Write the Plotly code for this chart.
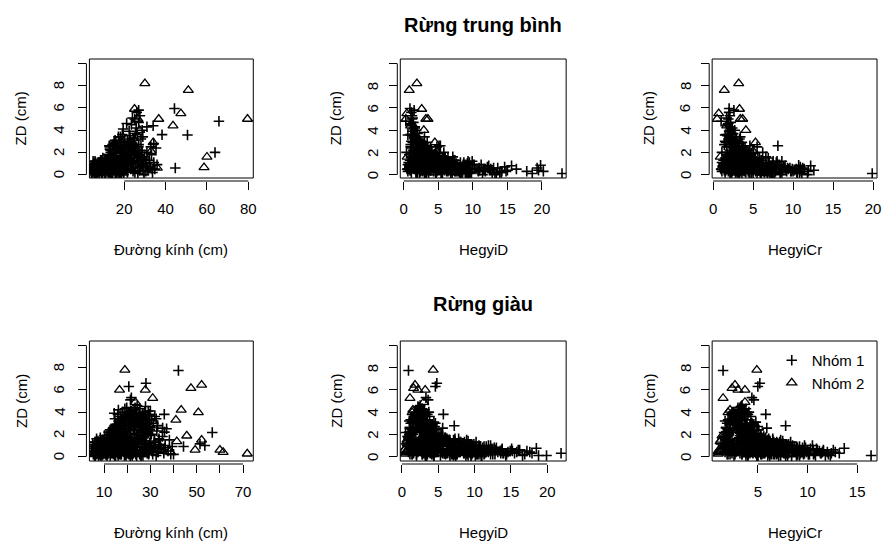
import plotly.graph_objects as go

# ---------------- Rừng trung bình : Nhóm 1 ----------------
d_tb_n1 = [4.2,4.6,5.1,5.8,6.3,4.8,5.5,6.9,7.4,4.4, 5.2,6.1,7.8,8.5,4.9,5.7,6.6,7.2,8.1,9.0,
           4.3,5.3,6.0,6.8,7.6,8.8,9.5,4.7,5.9,6.4, 7.0,8.3,9.2,9.8,5.0,6.2,7.3,8.0,8.7,9.4,
           4.5,5.4,6.7,7.9,9.7,5.6,6.5,4.1,7.1,8.4,
           10.2,10.8,11.3,11.9,12.4,12.9,13.5,14.0,14.6,15.1, 15.7,16.2,16.8,17.3,17.9,18.4,19.0,19.6,10.5,11.1,
           11.6,12.2,12.7,13.2,13.8,14.3,14.9,15.4,16.0,16.5, 17.1,17.6,18.2,18.7,19.3,19.8,10.7,11.4,12.0,12.6,
           13.3,13.9,14.5,15.2,15.8,16.4,17.0,17.7,18.3,18.9, 19.5,10.0,10.9,11.7,12.8,13.6,14.7,15.9,16.9,18.0,
           12.3,13.1,13.8,14.4,15.0,15.6,16.1,16.7,17.2,17.8, 18.3,18.9,19.4,20.0,20.6,21.1,21.7,22.2,22.8,23.3,
           23.9,24.5,25.0,25.6,14.8,16.4,18.6,19.9,21.4,23.6, 13.5,15.3,17.5,19.1,20.3,22.5,24.2,12.8,18.0,21.9,
           20.4,21.0,21.6,22.1,22.7,23.2,23.8,24.3,24.9,25.4, 26.0,26.6,27.1,27.7,28.2,28.8,29.3,29.9,30.4,31.0,
           31.5,32.1,32.6,33.2,33.7,34.3,34.8,35.4,35.9,24.6, 26.9,28.5,30.8,32.9,29.6,
           22.4,23.5,24.4,25.1,25.8,26.3,27.0,27.6,28.1,28.7, 26.1,23.0,21.2,24.0,29.0,19.5,
           44.3,65.8,50.6,38.3,63.9,44.7,27.0,31.0,34.0,25.4, 34.3,18.2,15.5,16.0,
           5.3,6.4,7.1,8.0,8.9,9.4,10.6,11.1,12.2,12.7, 13.8,14.2,15.5,15.9,17.0,17.4,18.6,19.1,20.2,20.9,
           21.5,4.9,5.8,6.6,7.5,8.3,9.2,10.1,10.9,11.8, 12.5,13.4,14.1,15.0,15.7,16.6,17.3,18.2,18.9,19.8,
           20.6,21.3,22.1,23.3,24.1,25.2,26.3,27.4,28.3,29.2, 30.5,31.2,32.3,33.5,9.7,13.0,16.3,19.4,22.8,26.7,
           5.4,6.2,7.3,8.1,9.0,9.9,10.7,11.5,12.4,13.1, 13.9,14.8,15.6,16.3,17.2,18.1,18.8,19.7,20.5,21.4,
           5.9,6.8,7.7,8.6,9.5,10.4,11.3,12.1,13.0,13.8, 14.6,15.4,16.2,17.1,17.9,18.7,19.5,20.3,21.2,22.0,
           12.6,13.4,14.2,15.1,15.9,16.8,17.6,18.5,19.3,20.2, 21.0,21.9,22.7,23.6,24.4,25.3,26.1,27.0,27.8,28.7,
           13.0,14.6,16.0,17.4,18.9,20.6,22.3,23.9,25.6,27.3, 14.0,15.5,17.0,18.3,19.9,21.6,23.1,24.8,26.5,29.5]
zd_tb_n1 = [0.1,0.85,0.4,0.5,0.4,0.3,0.6,0.2,0.7,0.5, 0.9,0.3,0.5,0.8,0.2,1.0,0.6,0.3,1.1,0.4,
            0.7,0.4,0.9,0.1,0.6,0.3,1.0,0.5,0.2,0.8, 0.5,0.7,0.2,0.6,1.2,0.0,0.9,0.1,0.5,0.8,
            0.3,0.7,0.4,0.2,0.5,0.1,0.6,0.3,0.8,0.3,
            0.3,0.9,0.5,1.3,0.2,0.7,1.1,0.4,1.5,0.8, 0.1,1.2,0.6,0.3,1.4,0.9,0.5,1.1,1.4,0.1,
            0.8,1.0,0.4,1.6,0.2,0.9,0.5,1.3,0.3,1.0, 0.7,0.0,1.2,0.4,0.8,0.2,0.6,1.1,0.3,0.9,
            0.5,1.2,0.1,0.7,0.4,0.9,0.2,1.0,0.6,0.3, 1.3,0.8,0.2,0.6,0.0,0.8,1.4,0.5,1.1,0.7,
            1.8,2.3,1.6,2.7,2.0,3.1,1.7,2.5,3.4,2.1, 2.9,1.9,2.6,3.2,1.6,2.4,2.9,1.8,3.5,2.2,
            2.8,1.7,3.1,2.0,1.5,2.2,1.5,2.0,1.6,1.5, 2.0,2.9,3.0,3.6,2.7,2.5,2.6,2.6,2.4,2.1,
            0.4,1.1,0.2,0.8,1.4,0.5,1.0,0.3,1.3,0.7, 1.9,0.1,1.2,0.6,2.2,0.9,0.3,1.6,0.8,2.0,
            0.4,1.3,0.6,1.8,0.2,1.1,0.5,2.4,0.9,2.3, 2.5,1.5,1.0,2.5,0.0,
            3.9,4.5,3.3,5.0,4.2,3.6,4.7,5.3,3.2,4.0, 5.6,3.0,4.6,5.1,3.4,4.1,
            5.95,4.8,3.57,3.6,2.0,0.6,5.8,4.3,4.4,3.7, 2.8,3.4,2.6,1.2,
            0.6,0.2,1.0,0.4,0.8,0.1,0.5,1.2,0.3,0.7, 1.0,0.2,0.6,1.3,0.4,0.8,0.1,1.1,0.5,0.9,
            0.3,0.9,0.3,0.7,1.1,0.5,0.2,0.8,0.4,1.0, 0.6,0.2,1.3,0.8,0.3,0.6,1.0,0.2,1.2,0.7,
            1.4,0.5,0.9,1.2,0.6,0.2,1.0,0.4,0.8,1.3, 0.3,0.7,1.1,0.5,1.5,1.7,1.9,1.6,1.8,1.5,
            0.7,1.1,0.3,0.9,1.3,0.5,0.1,1.0,0.6,1.2, 0.2,0.8,1.3,0.4,1.0,0.6,1.2,0.0,0.8,0.4,
            1.2,0.5,0.9,1.3,0.2,1.1,0.7,0.3,1.3,0.9, 0.5,1.1,0.1,0.7,1.3,0.3,0.9,1.2,0.5,1.0,
            1.4,2.2,1.0,2.8,1.7,2.4,1.2,3.0,1.9,2.6, 0.9,2.1,1.5,2.9,1.1,2.3,1.8,2.7,1.3,2.0,
            2.5,1.6,2.9,1.1,2.3,1.4,2.8,1.0,2.2,1.7, 1.8,1.2,2.6,2.0,1.5,3.0,1.2,2.4,1.9,1.4]
hd_tb_n1 = [22.9,19.8,19.5,16.3,15.0,14.2,13.6,12.8,12.1,11.7, 11.2,10.8,10.3,9.9,9.6,9.2,8.9,8.5,8.2,7.9,
            7.6,7.3,7.0,6.8,6.5,6.2,6.0,5.8,5.5,5.3, 5.1,4.9,4.7,4.5,4.4,13.2,10.0,9.4,11.5,8.7,
            17.8,14.6,12.4,13.9,10.6,18.6,19.3,20.2,15.6,14.8,
            7.4,6.6,5.9,5.2,8.1,4.6,4.1,6.9,3.7,4.3, 5.6,3.4,3.9,4.8,3.1,3.5,2.9,2.6,5.0,9.1,
            6.3,7.6,3.8,4.9,9.8,5.4,2.8,6.1,8.4,2.5, 7.1,3.3,4.0,2.3,5.7,3.6,10.9,8.7,11.8,10.2,
            12.6,9.3,13.4,8.9,11.0,7.8,9.6,6.7,8.0,6.4, 4.5,12.3,14.1,13.0,11.4,7.3,6.0,5.3,4.7,2.7,
            3.6,2.9,4.4,2.4,3.3,2.0,4.9,2.7,1.8,3.8, 2.2,5.2,3.0,1.6,4.1,2.5,3.4,2.1,1.4,3.7,
            2.6,1.9,2.3,4.6,5.6,4.0,6.4,5.8,7.1,6.0, 1.5,1.3,1.1,1.2,1.0,4.8,5.3,3.2,3.5,2.8,
            2.4,3.1,1.8,4.2,2.0,3.5,1.5,2.7,3.9,1.2, 2.2,3.0,1.7,2.5,1.4,3.3,1.9,1.1,2.6,1.6,
            0.9,2.1,1.3,0.8,1.8,1.0,0.7,1.2,0.6,2.9, 1.0,4.3,3.6,2.4,4.6,
            1.3,1.1,1.5,1.2,1.6,1.0,1.4,1.2,2.2,1.8, 1.1,2.4,1.0,1.3,1.5,1.2,
            0.9,0.3,0.6,1.2,0.4,0.8,1.5,1.6,1.2,2.0, 2.3,3.0,5.1,6.8,
            9.2,8.3,7.1,6.8,6.1,5.4,5.2,4.5,4.3,3.8, 3.7,3.2,3.1,2.7,2.7,2.3,2.3,1.9,2.0,1.7,
            1.8,8.7,7.5,6.6,5.7,5.3,4.7,4.5,3.9,3.8, 3.3,3.2,2.8,2.8,2.4,2.4,2.0,2.0,1.7,1.7,
            1.4,1.5,1.2,1.3,1.0,1.1,0.9,1.0,0.8,0.9, 0.6,0.8,0.7,0.5,3.9,3.4,2.6,2.1,1.5,1.1,
            8.8,9.5,7.9,8.6,7.2,9.3,8.2,6.9,7.8,6.4, 8.5,6.1,5.8,7.5,5.5,6.6,5.1,7.0,4.8,5.9,
            9.9,8.4,9.0,7.4,8.9,6.8,7.6,9.6,6.2,7.3, 8.0,5.6,9.2,6.5,4.9,7.7,5.3,4.6,6.3,5.0,
            3.9,3.0,4.4,2.5,3.6,2.8,4.1,2.1,3.3,2.6, 3.8,2.4,3.1,1.9,3.5,2.2,2.9,1.7,2.7,2.0,
            3.4,4.2,2.3,4.0,2.9,3.7,2.0,3.2,2.5,2.3, 4.5,3.9,2.7,3.1,3.6,1.8,3.4,2.6,2.1,1.5]
hc_tb_n1 = [19.9,10.7,12.6,11.4,10.2,11.0,9.6,10.5,8.8,9.9, 8.1,9.2,7.6,7.1,8.4,6.9,7.8,6.4,6.0,6.7,
            7.3,5.8,6.2,5.5,5.1,5.9,4.8,6.5,4.6,5.3, 4.4,4.9,4.1,3.8,5.2,11.8,8.3,7.4,9.4,6.6,
            11.9,10.9,9.1,8.6,7.9,10.5,11.2,9.8,12.2,10.0,
            6.1,5.4,4.9,4.5,6.8,4.2,3.9,5.6,3.6,4.0, 5.0,3.3,3.8,4.4,3.1,3.5,3.0,2.8,4.7,7.7,
            5.8,6.3,3.4,4.6,7.2,4.8,2.9,5.2,6.9,2.6, 5.7,3.2,3.7,2.4,4.9,3.3,8.9,7.0,9.7,8.0,
            10.4,7.5,11.1,6.5,8.7,6.2,7.3,5.5,6.0,5.3, 4.1,9.0,10.8,9.3,8.4,5.9,5.1,4.3,4.0,2.5,
            3.1,2.7,3.9,2.3,3.2,2.1,4.4,2.6,2.0,3.5, 2.4,4.8,3.0,1.9,4.2,2.8,3.6,2.5,1.8,4.1,
            3.3,2.2,2.9,5.0,5.3,4.5,5.8,6.2,6.6,6.9, 1.7,1.6,1.5,1.9,1.4,5.5,4.6,3.7,4.0,3.8,
            2.7,3.2,2.2,4.3,2.6,3.9,2.0,3.4,4.7,1.8, 3.0,3.6,2.4,3.5,2.1,4.4,2.9,1.9,4.0,2.6,
            1.6,3.1,2.3,1.7,2.8,2.0,1.5,2.5,1.3,3.8, 1.7,5.6,4.9,3.7,6.0,
            2.0,1.8,2.3,1.9,2.4,1.6,2.2,2.1,3.3,2.7, 2.0,2.6,1.9,1.7,2.8,2.2,
            2.0,1.0,1.5,2.4,1.1,1.8,2.6,2.1,1.8,2.5, 3.0,3.4,8.1,8.6,
            7.1,6.4,6.2,5.6,5.3,4.8,4.6,4.0,3.9,3.5, 3.5,3.0,3.0,2.6,2.6,2.2,2.3,2.0,2.1,1.8,
            1.9,7.5,6.7,6.0,5.3,5.1,4.5,4.4,3.8,3.8, 3.2,3.2,2.7,2.7,2.4,2.4,2.0,2.1,1.8,1.8,
            1.6,1.7,1.5,1.6,1.4,1.5,1.3,1.4,1.2,1.3, 1.1,1.2,1.1,1.0,4.2,3.7,2.9,2.4,1.8,1.5,
            7.2,7.9,6.5,7.0,6.0,7.6,6.8,5.7,6.4,5.4, 7.1,5.2,4.9,6.2,4.7,5.5,4.4,5.9,4.2,5.0,
            8.0,6.9,7.4,6.1,7.3,5.6,6.3,7.8,5.2,6.0, 6.6,4.8,7.5,5.4,4.3,6.4,4.6,4.0,5.3,4.4,
            4.0,3.3,4.5,2.9,3.8,3.1,4.3,2.6,3.5,3.0, 4.1,2.8,3.4,2.4,3.8,2.7,3.2,2.2,3.1,2.5,
            3.6,4.4,2.7,4.2,3.2,3.9,2.5,3.6,2.9,2.8, 4.7,4.1,3.0,3.4,3.9,2.3,3.7,3.0,2.6,2.1]

# ---------------- Rừng trung bình : Nhóm 2 ----------------
d_tb_n2 = [30.0,51.0,25.0,47.4,26.6,36.7,43.6,79.6,60.0,58.6, 36.0,33.0,34.0,27.5]
zd_tb_n2 = [8.2,7.6,5.9,5.5,5.0,5.0,4.4,5.0,1.6,0.65, 0.6,2.1,2.9,4.0]
hd_tb_n2 = [1.9,0.8,2.6,0.45,3.2,3.5,1.0,0.3,0.5,0.7, 1.3,4.8,4.5,2.9]
hc_tb_n2 = [3.2,1.4,3.3,0.7,3.7,3.4,1.7,0.5,0.9,1.1, 2.0,5.0,5.3,4.1]

# ---------------- Rừng giàu : Nhóm 1 ----------------
d_gi_n1 = [5.5,6.0,6.6,7.2,7.8,8.4,9.0,9.6,10.2,10.8, 11.4,5.8,6.4,7.0,7.6,8.2,8.8,9.4,10.0,10.6,
           11.2,11.8,5.3,5.9,6.5,7.1,7.7,8.3,8.9,9.5, 10.1,10.7,11.3,11.9,5.6,6.2,6.8,7.4,8.0,8.6,
           9.2,9.8,10.4,11.0,11.6,5.4,6.9,8.5,9.9,11.5, 7.3,8.7,10.3,6.3,9.1,10.9,7.9,6.7,9.3,11.1,
           12.1,12.5,12.9,13.3,13.7,14.1,14.5,14.9,15.3,15.7, 16.1,16.5,16.9,17.3,17.7,18.1,18.5,18.9,19.3,19.7,
           20.1,20.5,20.9,21.3,21.7,22.1,22.5,22.9,23.3,23.7, 12.3,12.7,13.1,13.5,13.9,14.3,14.7,15.1,15.5,15.9,
           16.3,16.7,17.1,17.5,17.9,18.3,18.7,19.1,19.5,19.9, 20.3,20.7,21.1,21.5,21.9,22.3,22.7,23.1,23.5,23.9,
           12.6,14.0,15.4,16.8,18.2,19.6,21.0,22.4,23.8,13.6,
           13.2,13.8,14.4,15.0,15.6,16.2,16.8,17.4,18.0,18.6, 19.2,19.8,20.4,21.0,21.6,22.2,22.8,23.4,24.0,24.6,
           25.2,25.8,26.4,27.0,27.6,28.2,28.8,29.4,30.0,30.6, 14.1,15.9,17.1,18.9,20.1,21.9,23.1,24.3,25.5,26.7,
           27.9,29.1,19.5,20.7,22.5,16.5,17.7,18.3,21.3,23.7, 26.1,28.5,14.7,16.0,19.0,24.9,27.3,22.0,25.0,29.7,
           22.6,23.2,23.8,24.4,25.0,25.6,26.2,26.8,27.4,28.0, 28.6,29.2,29.8,30.4,31.0,31.6,32.2,32.8,33.4,34.0,
           34.6,35.2,35.8,36.4,37.0,37.6,38.2,38.8,39.4,30.1, 31.3,32.5,33.1,29.5,31.9,28.9,33.7,36.1,24.1,27.1,
           42.1,20.7,28.1,21.4,21.8,36.0,35.3,56.7,51.4,53.5, 44.3,36.4,40.0,30.0,33.0,6.1,7.0,6.5,
           5.1,5.7,6.3,6.9,7.5,8.1,8.7,9.3,9.9,10.5, 11.1,11.7,12.3,12.9,13.5,14.1,14.7,15.3,15.9,16.5,
           17.1,17.7,18.3,18.9,19.5,20.1,20.7,21.3,21.9,22.5, 23.1,23.7,24.3,24.9,25.5,26.1,26.7,27.3,27.9,28.5,
           29.1,29.7,6.0,7.8,9.6,11.4,13.2,15.0,16.8,18.6, 20.4,22.2,24.0,25.8,27.6,29.4,8.4,10.2,12.0,13.8,
           15.6,17.4,19.2,21.0,22.8,24.6,26.4,28.2,14.4,16.2, 18.0,19.8,21.6,23.4,25.2,27.0,12.6,17.8,20.9,23.9,
           26.9,15.2,18.7,21.7,24.7,13.9,16.9,19.9,22.9,25.9,
           5.2,6.1,7.0,7.9,8.8,9.7,10.6,11.5,12.4,13.3, 14.2,15.1,16.0,16.9,17.8,18.7,19.6,5.6,6.5,7.4,
           8.3,9.2,10.1,11.0,11.9,12.8,13.7,14.6,15.5,16.4, 17.3,18.2,19.1,20.0,6.8,9.4,12.1,14.9,17.6,19.4,
           12.2,13.1,14.0,14.9,15.8,16.7,17.6,18.5,19.4,20.3, 21.2,22.1,23.0,23.9,24.8,25.7,26.6,27.5,28.4,29.3,
           12.7,14.4,16.1,17.9,19.6,21.4,23.2,25.0,26.8,28.6, 13.6,15.3,17.1,18.8,20.6,22.4,24.2,26.0,27.8,29.8,
           16.2,17.5,18.8,20.1,21.4,22.7,24.0,25.3,26.6,27.9, 29.2,30.5,31.8,33.1,34.4,35.7,16.9,18.2,19.5,20.8,
           22.1,23.4,24.7,26.0,27.3,28.6,29.9,31.2,32.5,33.8, 17.2,19.9,22.6,25.4,28.1,30.9,33.6,21.0,26.3,31.5]
zd_gi_n1 = [0.4,0.2,0.6,0.3,0.5,0.1,0.7,0.4,0.8,0.2, 0.6,0.9,0.3,0.7,0.1,0.5,0.9,0.3,0.6,1.0,
            0.4,0.8,0.5,0.1,0.8,0.4,1.1,0.2,0.6,1.0, 0.3,0.7,0.1,0.5,0.7,0.0,0.4,0.9,0.3,0.7,
            0.2,1.2,0.5,0.9,0.3,0.2,0.6,0.4,0.8,0.2, 0.5,0.3,0.6,0.4,0.1,0.4,0.8,0.2,0.6,0.3,
            0.3,0.9,1.4,0.5,1.1,0.2,0.7,1.6,0.4,1.0, 0.1,0.6,1.3,0.3,0.8,1.5,0.5,1.2,0.2,0.7,
            1.7,0.4,1.0,0.0,0.6,1.4,0.3,0.9,1.6,0.5, 0.6,0.1,1.0,0.4,0.8,1.2,0.0,0.6,1.3,0.3,
            0.9,0.5,1.1,0.2,0.7,1.0,0.4,0.8,0.1,0.6, 1.1,0.3,0.7,1.3,0.2,0.8,0.4,1.0,0.6,0.2,
            1.5,1.7,1.8,1.6,1.8,1.4,1.5,1.2,1.1,0.3,
            1.9,2.4,1.7,2.9,2.1,3.2,2.5,1.8,3.5,2.7, 2.0,3.8,3.0,2.3,4.1,3.3,2.6,4.4,3.6,2.0,
            3.9,2.8,3.4,2.2,4.0,3.1,2.5,3.7,1.9,3.3, 2.0,2.6,1.7,2.2,1.8,2.9,4.2,4.6,4.3,3.8,
            4.5,4.1,3.3,3.6,4.0,2.9,3.1,2.4,2.7,2.9, 2.4,2.0,3.4,3.8,4.3,1.7,1.8,1.7,3.0,2.7,
            0.5,1.2,0.2,0.9,1.6,0.4,1.1,0.1,0.7,1.4, 0.3,1.0,0.6,2.0,0.2,1.3,0.8,2.3,0.4,1.1,
            0.7,1.8,0.3,1.0,2.5,0.5,1.5,0.2,0.9,2.6, 3.0,3.4,2.8,3.8,3.6,2.2,1.6,2.2,0.0,0.4,
            7.75,6.3,6.6,5.1,5.3,3.8,2.56,2.16,1.14,1.0, 0.9,0.8,0.2,4.1,2.77,0.1,0.3,0.75,
            1.1,0.9,1.3,1.0,1.2,0.8,1.4,0.6,1.5,1.1, 1.7,0.5,1.9,1.3,2.1,0.9,2.3,1.6,2.0,0.7,
            2.5,1.2,2.8,1.8,2.2,0.4,2.7,1.5,3.0,1.0, 2.4,0.6,3.2,1.9,2.6,0.3,2.9,1.4,3.4,0.8,
            2.1,1.2,0.5,0.3,0.2,0.4,0.3,0.1,0.2,0.5, 0.3,0.1,0.6,0.2,0.4,0.3,1.7,1.9,2.2,2.5,
            2.7,3.3,3.6,3.9,3.5,3.1,3.7,3.3,3.9,4.2, 4.0,4.4,4.1,3.8,3.4,2.8,2.4,3.0,3.2,2.0,
            2.6,1.2,1.4,0.9,1.3,0.7,1.0,0.5,0.8,0.2,
            0.9,1.3,0.4,1.1,0.7,1.5,0.2,1.2,0.6,1.6, 0.3,1.0,1.4,0.5,1.2,0.8,1.5,0.5,1.0,1.4,
            0.3,0.8,1.3,0.6,1.5,1.0,0.4,1.2,0.7,1.6, 0.2,1.1,0.6,1.4,1.6,1.5,1.7,1.6,1.8,1.7,
            1.6,2.3,1.9,2.8,2.2,3.1,2.5,3.4,2.0,3.7, 2.7,3.3,2.1,3.9,2.9,3.5,2.3,3.8,2.6,3.0,
            2.0,2.6,1.8,3.2,2.9,3.8,2.4,3.6,2.8,3.3, 1.8,2.1,3.6,2.5,4.0,3.0,3.2,2.7,3.5,2.4,
            0.4,1.0,0.1,0.7,1.3,0.3,0.9,1.5,0.5,1.1, 0.2,0.8,1.4,0.4,1.0,0.6,1.2,0.6,1.4,0.2,
            1.0,0.5,1.3,0.0,0.8,0.4,1.2,0.7,0.1,1.5, 0.9,0.3,0.6,0.2,1.1,0.5,0.8,1.4,1.2,0.9]
hd_gi_n1 = [17.6,16.9,16.2,15.5,14.9,14.3,13.8,13.2,12.7,12.2, 11.7,11.3,10.9,10.5,10.1,9.7,9.4,9.0,8.7,8.3,
            8.0,7.7,7.4,7.1,6.8,6.6,6.3,6.0,12.9,11.9, 14.0,15.1,16.6,13.5,12.4,11.0,9.9,9.2,8.5,7.9,
            7.2,6.9,6.4,6.1,5.8,10.3,12.0,11.5,10.7,9.6, 17.2,17.9,16.0,15.8,18.8,14.6,13.0,14.4,10.0,8.9,
            5.6,4.9,4.2,6.2,3.6,7.0,4.5,3.1,5.3,3.9, 6.6,4.7,3.3,5.9,4.0,2.8,5.0,3.5,6.8,4.3,
            2.6,5.4,3.7,7.4,4.8,3.0,6.1,4.1,2.4,5.7, 8.2,9.1,7.7,8.8,7.3,6.4,9.5,8.0,5.8,8.6,
            7.1,9.8,6.3,10.4,7.6,5.5,9.3,6.9,10.9,8.4, 5.1,11.4,7.9,4.6,12.5,8.9,11.1,7.2,9.7,10.6,
            5.2,4.4,3.8,4.9,5.6,6.0,6.5,6.7,5.3,13.6,
            3.4,2.8,4.3,2.2,3.7,1.9,3.1,4.6,2.5,3.9, 1.5,2.9,2.0,4.1,2.6,1.7,3.3,2.3,2.9,1.3,
            2.1,3.6,1.6,2.7,3.0,1.4,2.4,1.9,3.2,1.2, 1.2,1.1,0.9,1.0,0.8,2.3,3.1,2.5,2.8,3.5,
            2.2,2.7,3.4,3.8,3.7,4.2,4.4,4.8,4.5,4.0, 4.3,4.7,2.0,2.4,2.7,5.0,5.3,5.6,4.6,4.2,
            2.8,1.9,3.5,1.4,2.6,3.9,1.7,3.2,1.1,2.3, 4.1,1.5,2.9,1.0,2.0,3.0,1.3,1.8,0.9,2.4,
            1.2,0.8,1.6,0.7,1.1,2.1,0.9,1.4,0.8,2.2, 2.6,1.7,3.3,1.8,2.1,3.6,2.7,1.5,4.4,4.6,
            0.9,4.6,4.8,3.6,3.3,5.7,5.6,0.5,0.6,0.8, 1.0,1.3,1.1,2.4,7.2,19.9,21.9,18.5,
            9.4,10.8,8.6,12.2,7.9,11.1,7.3,13.7,6.5,9.9, 6.0,11.8,5.4,8.1,4.6,7.4,4.0,6.2,4.4,8.7,
            3.5,6.5,3.2,5.1,3.9,7.8,2.9,4.8,2.6,5.5, 3.3,6.9,2.3,4.2,2.9,6.3,2.5,3.8,2.1,4.9,
            3.1,3.6,15.2,13.9,12.8,10.9,9.7,8.8,7.6,6.8, 5.9,5.3,4.7,4.1,3.5,3.0,3.7,3.3,3.0,2.7,
            2.9,2.4,2.2,2.0,2.6,2.3,2.1,1.9,2.8,2.5, 2.6,2.3,2.9,3.2,2.7,3.4,1.4,1.2,1.0,1.3,
            1.1,1.9,1.6,1.3,1.5,2.2,1.7,1.5,1.2,1.4,
            11.6,10.2,11.9,9.6,10.8,8.9,11.3,8.5,9.9,7.8, 9.4,8.1,7.2,8.8,6.9,7.7,6.3,12.4,10.6,9.1,
            10.4,9.8,8.0,9.0,7.1,8.2,8.7,6.7,7.9,6.0, 7.5,6.4,6.8,5.6,7.3,6.6,5.9,5.4,5.0,4.7,
            3.8,3.2,4.1,2.7,3.5,2.4,3.0,2.1,3.7,1.9, 2.8,2.2,3.4,1.8,2.5,2.0,3.1,1.7,2.6,2.3,
            4.4,3.6,4.2,2.9,3.3,2.2,3.9,2.5,2.9,2.7, 1.3,1.4,2.0,3.6,1.9,2.8,2.4,3.4,2.1,1.6,
            4.7,4.0,4.4,3.5,3.9,3.2,3.6,2.7,3.1,2.4, 2.8,2.1,1.8,2.2,1.5,1.3,4.9,4.2,3.7,4.3,
            3.3,3.8,2.9,3.4,2.5,3.0,1.9,2.6,2.0,1.6, 4.5,3.9,3.1,2.8,2.3,1.7,1.2,4.1,2.7,1.4]
hc_gi_n1 = [12.8,12.1,11.6,12.4,11.2,10.8,10.3,9.9,9.5,10.1, 9.1,8.7,9.3,8.3,8.9,7.9,7.5,8.1,7.2,6.8,
            7.4,6.5,7.0,6.2,5.9,6.6,5.6,5.3,11.0,10.5, 9.7,10.9,11.8,9.0,8.4,7.8,7.1,6.7,6.1,5.8,
            5.4,5.0,4.8,4.5,4.2,9.6,7.7,8.6,8.0,6.9, 10.0,11.4,12.6,12.0,12.3,11.5,9.8,10.6,7.6,7.0,
            5.4,4.9,4.3,5.9,3.8,6.4,4.6,3.5,5.1,4.1, 6.0,4.8,3.6,5.6,4.4,3.3,5.2,3.9,6.7,4.7,
            3.1,5.8,4.2,7.1,5.3,3.7,6.3,4.5,3.0,6.1, 7.3,8.0,6.8,7.6,6.5,5.7,8.4,7.0,5.5,7.7,
            6.3,8.7,6.2,8.9,6.9,5.9,8.2,6.6,9.2,7.4, 5.0,9.6,7.2,4.9,10.2,7.8,9.4,6.8,8.5,9.0,
            5.6,4.0,4.5,5.0,5.3,6.2,6.5,7.5,7.0,11.3,
            3.2,2.9,4.1,2.5,3.6,2.4,3.3,4.7,3.0,3.9, 2.1,3.5,2.7,4.4,3.4,2.3,3.8,3.2,3.7,2.0,
            3.1,4.2,2.6,3.9,3.6,2.2,3.3,2.8,4.0,2.0, 1.9,1.8,1.7,1.9,1.6,2.7,3.5,3.4,3.8,4.0,
            3.3,3.6,3.9,4.3,4.1,4.5,4.8,5.1,5.0,4.6, 4.9,5.3,2.8,3.1,3.5,5.4,5.6,5.8,4.4,4.7,
            3.4,2.6,4.0,2.2,3.1,4.5,2.5,3.8,1.9,2.9, 4.8,2.3,3.5,1.8,2.7,3.9,2.1,2.5,1.7,3.2,
            2.0,1.6,2.4,1.5,1.9,3.0,1.7,2.2,1.6,3.1, 3.7,2.6,4.3,2.8,3.3,4.4,3.4,2.3,4.9,5.0,
            1.5,5.0,5.2,4.6,4.4,5.8,5.9,1.6,1.3,1.5, 1.8,2.0,1.9,3.2,7.8,16.4,13.2,13.7,
            7.8,8.9,7.2,9.7,6.6,9.0,6.2,10.6,5.6,8.1, 5.2,9.4,4.8,6.9,4.2,6.4,3.8,5.5,4.1,7.4,
            3.5,5.8,3.3,4.7,3.8,6.8,3.0,4.5,2.9,5.0, 3.4,6.1,2.7,4.0,3.1,5.7,2.8,3.7,2.5,4.6,
            3.2,3.6,11.6,10.7,10.1,8.7,7.9,7.3,6.6,6.0, 5.4,5.0,4.5,4.0,3.6,3.2,3.9,3.6,3.3,3.1,
            3.2,2.9,2.7,2.6,3.0,2.8,2.7,2.5,3.4,3.1, 3.3,3.0,3.5,3.7,3.3,3.8,2.0,1.9,1.7,2.0,
            1.8,2.5,2.2,1.9,2.1,2.6,2.3,2.1,1.8,2.0,
            9.2,8.3,9.5,7.9,8.7,7.3,9.0,7.0,8.0,6.5, 7.6,6.7,6.1,7.2,5.8,6.4,5.4,9.7,8.5,7.5,
            8.4,7.9,6.6,7.4,6.0,6.8,7.1,5.7,6.5,5.1, 6.2,5.5,5.8,4.8,6.1,5.6,5.0,4.7,4.4,4.2,
            4.2,3.6,4.5,3.2,3.9,2.9,3.4,2.7,4.0,2.5, 3.3,2.8,3.8,2.4,3.1,2.6,3.5,2.3,3.2,2.9,
            4.8,4.0,4.6,3.4,3.7,2.9,4.3,3.1,3.4,3.3, 1.9,2.0,2.6,4.0,2.5,3.3,3.0,3.8,2.7,2.2,
            5.2,4.6,5.0,4.1,4.5,3.8,4.2,3.3,3.7,3.0, 3.4,2.7,2.4,2.8,2.1,1.9,5.4,4.8,4.3,4.9,
            3.9,4.4,3.5,4.0,3.1,3.6,2.5,3.2,2.6,2.2, 5.1,4.5,3.7,3.4,2.9,2.3,1.8,4.7,3.3,2.0]

# ---------------- Rừng giàu : Nhóm 2 ----------------
d_gi_n2 = [19.0,16.7,27.8,31.0,23.5,47.5,52.1,50.7,43.3,41.0, 45.7,41.4,49.3,52.1,60.0,61.4,71.8,38.5]
zd_gi_n2 = [7.8,6.0,6.0,5.26,4.9,6.15,6.45,3.97,4.2,3.3, 1.87,1.36,0.6,1.5,0.6,0.4,0.25,0.45]
hd_gi_n2 = [4.3,3.2,2.2,1.1,3.0,1.6,1.8,1.4,1.5,1.6, 0.9,0.7,0.3,0.7,0.35,0.5,0.45,0.6]
hc_gi_n2 = [4.9,3.7,3.0,1.5,3.7,2.4,2.7,2.0,2.2,2.3, 1.4,1.2,1.3,1.3,1.1,1.2,1.0,1.0]

for grp in [(d_tb_n1, zd_tb_n1, hd_tb_n1, hc_tb_n1), (d_tb_n2, zd_tb_n2, hd_tb_n2, hc_tb_n2),
            (d_gi_n1, zd_gi_n1, hd_gi_n1, hc_gi_n1), (d_gi_n2, zd_gi_n2, hd_gi_n2, hc_gi_n2)]:
    assert len(set(len(v) for v in grp)) == 1, [len(v) for v in grp]

# ---------------- labels / ticks ----------------
row_titles = ["Rừng trung bình", "Rừng giàu"]
x_titles = ["Đường kính (cm)", "HegyiD", "HegyiCr"]
y_title = "ZD (cm)"
group_names = ["Nhóm 1", "Nhóm 2"]
y_ticks = [0, 2, 4, 6, 8, 10]
y_ticktext = ["0", "2", "4", "6", "8", ""]
x_ticks = [[20, 40, 60, 80], [0, 5, 10, 15, 20], [0, 5, 10, 15, 20],
           [10, 20, 30, 40, 50, 60, 70], [0, 5, 10, 15, 20], [5, 10, 15]]
x_ticktext = [["20", "40", "60", "80"], ["0", "5", "10", "15", "20"], ["0", "5", "10", "15", "20"],
              ["10", "", "30", "", "50", "", "70"], ["0", "5", "10", "15", "20"], ["5", "10", "15"]]

# ---------------- layout geometry (pixels) ----------------
W, H = 884, 542
cols = [(87, 252), (400, 567), (714, 880)]
rows = [(59, 178), (341, 461)]
x_ranges = [[3.2, 82.4], [-0.5, 23.5], [-0.12, 20.5], [3.7, 74.4], [-0.23, 22.6], [0.4, 17.0]]
y_ranges = [[-0.3, 10.4], [-0.4, 10.4]]
ylabel_x = [56, 372, 687]
ytitle_x = [18, 335, 650]
xtitle_y = [250, 532]
title_y = [25, 304]
GAP = 3
FONT = "Liberation Sans, Arial, sans-serif"

panels = [
    (0, 0, d_tb_n1, zd_tb_n1, d_tb_n2, zd_tb_n2),
    (0, 1, hd_tb_n1, zd_tb_n1, hd_tb_n2, zd_tb_n2),
    (0, 2, hc_tb_n1, zd_tb_n1, hc_tb_n2, zd_tb_n2),
    (1, 0, d_gi_n1, zd_gi_n1, d_gi_n2, zd_gi_n2),
    (1, 1, hd_gi_n1, zd_gi_n1, hd_gi_n2, zd_gi_n2),
    (1, 2, hc_gi_n1, zd_gi_n1, hc_gi_n2, zd_gi_n2),
]

fig = go.Figure()
shapes = []
annotations = []
layout_axes = {}
txt_font = dict(family=FONT, size=15, color="black")
for i, (r, c, x1, y1, x2, y2) in enumerate(panels, start=1):
    xa = "x" if i == 1 else f"x{i}"
    ya = "y" if i == 1 else f"y{i}"
    fig.add_trace(go.Scatter(
        x=x1, y=y1, mode="markers", xaxis=xa, yaxis=ya, name=group_names[0],
        legendgroup="g1", showlegend=(i == 6), hoverinfo="skip",
        marker=dict(symbol="cross-thin-open", size=7.5, color="black",
                    line=dict(width=1.6, color="black"))))
    fig.add_trace(go.Scatter(
        x=x2, y=y2, mode="markers", xaxis=xa, yaxis=ya, name=group_names[1],
        legendgroup="g2", showlegend=(i == 6), hoverinfo="skip",
        marker=dict(symbol="triangle-up-open", size=8.8, color="black",
                    line=dict(width=1.3, color="black"))))
    c0, c1 = cols[c]
    r0, r1 = rows[r]
    xpos = 1 - (r1 + GAP) / H
    ypos = (c0 - GAP) / W
    common = dict(showgrid=False, zeroline=False, showline=False, ticks="outside",
                  ticklen=8, tickwidth=1, tickcolor="black", tickfont=txt_font)
    layout_axes[f"xaxis{i}"] = dict(domain=[c0 / W, c1 / W], range=x_ranges[i - 1],
                                    anchor="free", position=xpos,
                                    tickmode="array", tickvals=x_ticks[i - 1],
                                    ticktext=x_ticktext[i - 1], ticklabelstandoff=6, **common)
    layout_axes[f"yaxis{i}"] = dict(domain=[1 - r1 / H, 1 - r0 / H], range=y_ranges[r],
                                    anchor="free", position=ypos,
                                    tickmode="array", tickvals=y_ticks,
                                    showticklabels=False, **common)
    # rotated y tick labels (R style, parallel to the axis)
    for v, t in zip(y_ticks, y_ticktext):
        if t:
            annotations.append(dict(text=t, xref="paper", yref=ya, x=ylabel_x[c] / W, y=v,
                                    textangle=-90, xanchor="center", yanchor="middle",
                                    showarrow=False, font=txt_font))
    shapes.append(dict(type="rect", xref=f"{xa} domain", yref=f"{ya} domain",
                       x0=0, x1=1, y0=0, y1=1, line=dict(color="black", width=1)))
    shapes.append(dict(type="line", xref=xa, yref="paper", x0=x_ticks[i - 1][0],
                       x1=x_ticks[i - 1][-1], y0=xpos, y1=xpos,
                       line=dict(color="black", width=1)))
    shapes.append(dict(type="line", xref="paper", yref=ya, x0=ypos, x1=ypos,
                       y0=y_ticks[0], y1=y_ticks[-1], line=dict(color="black", width=1)))
    annotations.append(dict(text=x_titles[c], xref="paper", yref="paper",
                            x=(c0 + c1) / 2 / W, y=1 - xtitle_y[r] / H,
                            xanchor="center", yanchor="middle", showarrow=False, font=txt_font))
    annotations.append(dict(text=y_title, xref="paper", yref="paper",
                            x=ytitle_x[c] / W, y=1 - (r0 + r1) / 2 / H, textangle=-90,
                            xanchor="center", yanchor="middle", showarrow=False, font=txt_font))

for r in range(2):
    annotations.append(dict(text=f"<b>{row_titles[r]}</b>", xref="paper", yref="paper",
                            x=(cols[1][0] + cols[1][1]) / 2 / W, y=1 - title_y[r] / H,
                            xanchor="center", yanchor="middle", showarrow=False,
                            font=dict(family=FONT, size=20, color="black")))

fig.update_layout(
    width=W, height=H, margin=dict(l=0, r=0, t=0, b=0),
    paper_bgcolor="white", plot_bgcolor="white",
    shapes=shapes, annotations=annotations,
    showlegend=True,
    legend=dict(x=774 / W, y=1 - 344 / H, xanchor="left", yanchor="top",
                bgcolor="rgba(0,0,0,0)", borderwidth=0,
                font=txt_font, tracegroupgap=0),
    **layout_axes)

fig.write_html("out.html", config={"displayModeBar": False, "staticPlot": True},
               post_script="document.body.style.margin='0';")
